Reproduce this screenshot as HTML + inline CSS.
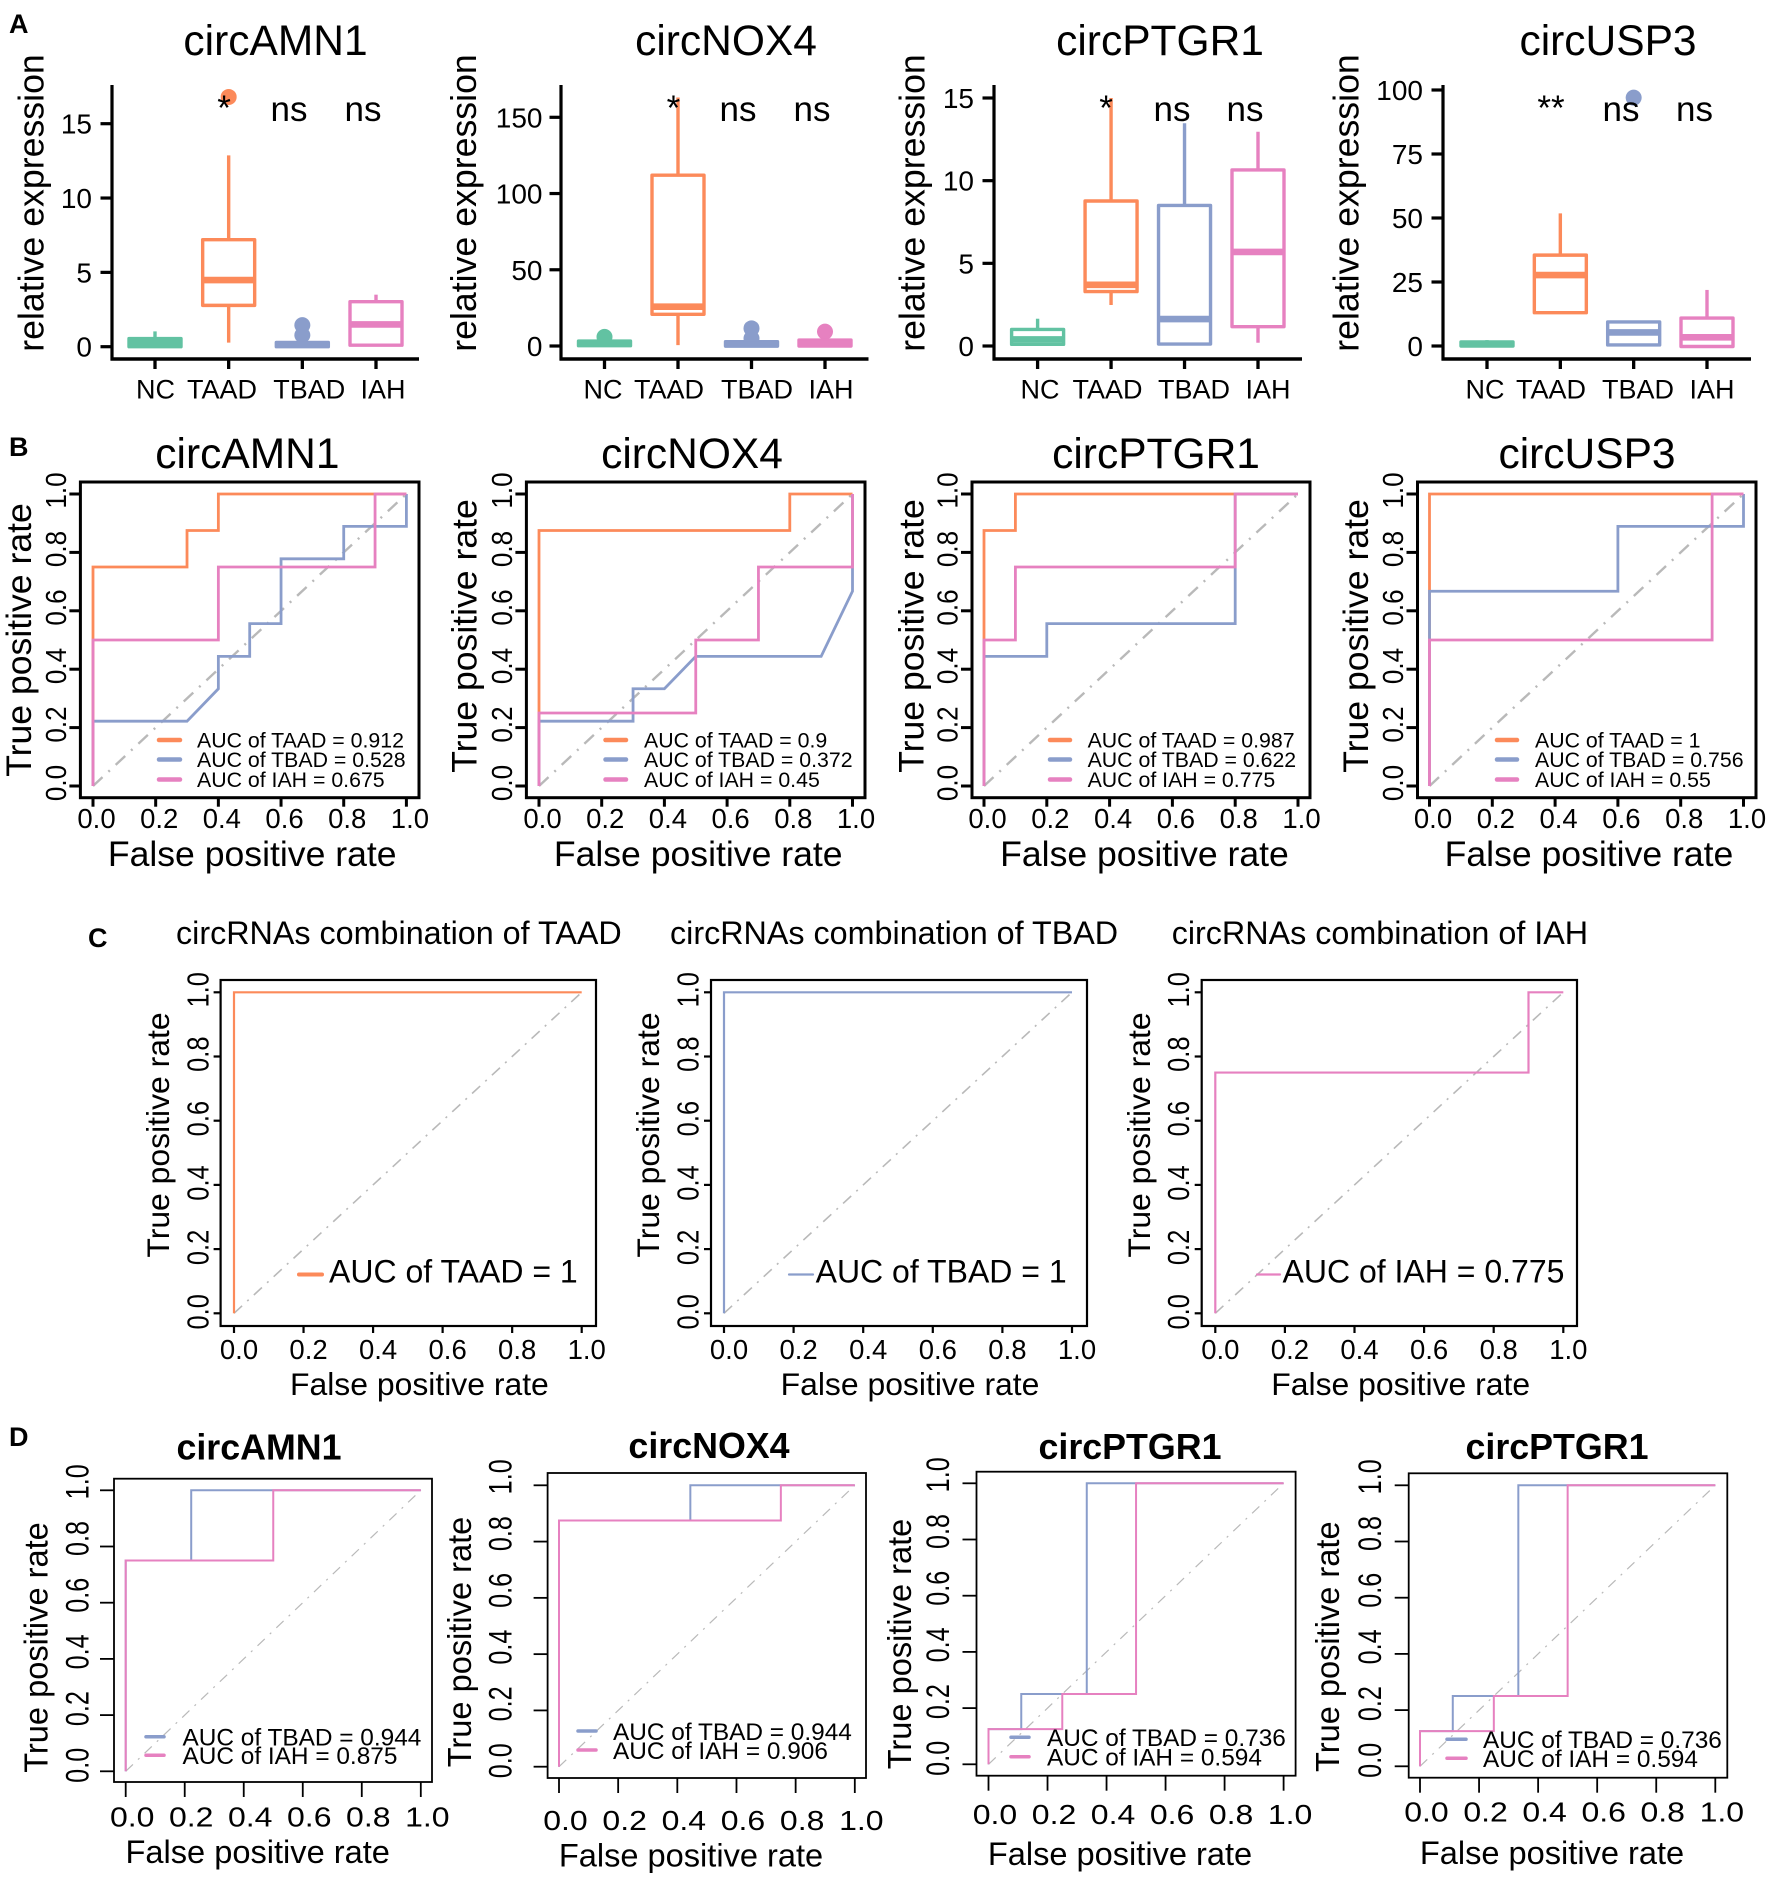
<!DOCTYPE html>
<html lang="en">
<head>
<meta charset="utf-8">
<title>circRNA expression and ROC panels</title>
<style>
html,body{margin:0;padding:0;background:#fff;}
svg{display:block;}
text{font-family:"Liberation Sans",Arial,sans-serif;fill:#000;}
</style>
</head>
<body>
<svg id="figure" xmlns="http://www.w3.org/2000/svg" width="1772" height="1880" viewBox="0 0 1772 1880">
<rect width="1772" height="1880" fill="#fff"/>
<text x="9" y="33" font-size="27" font-weight="bold">A</text>
<text x="9" y="456" font-size="27" font-weight="bold">B</text>
<text x="88" y="947" font-size="27" font-weight="bold">C</text>
<text x="9" y="1446" font-size="27" font-weight="bold">D</text>
</svg>
<script>
// ---------- Panel A data ----------
const boxCategories = ['NC', 'TAAD', 'TBAD', 'IAH'];

const amn1Low = [0, 0.27, 0, 0.1];
const amn1Q1 = [0, 2.78, 0, 0.1];
const amn1Median = [0.3, 4.48, 0.15, 1.5];
const amn1Q3 = [0.55, 7.2, 0.29, 3.03];
const amn1High = [1.03, 12.87, 0.29, 3.5];
const amn1Outliers = [[], [16.8], [0.78, 1.45], []];
const amn1Ticks = [0, 5, 10, 15];
const amn1Sig = ['*', 'ns', 'ns'];

const nox4Low = [0, 0.6, 0, 0];
const nox4Q1 = [0.2, 20.8, 0, 0];
const nox4Median = [1.5, 25.8, 1, 1.5];
const nox4Q3 = [3.2, 112, 2.8, 3.9];
const nox4High = [3.2, 163, 2.8, 3.9];
const nox4Outliers = [[6], [], [5, 11.6], [9.4]];
const nox4Ticks = [0, 50, 100, 150];
const nox4Sig = ['*', 'ns', 'ns'];

const ptgr1Low = [0, 2.48, 0.04, 0.2];
const ptgr1Q1 = [0.1, 3.29, 0.12, 1.17];
const ptgr1Median = [0.4, 3.7, 1.63, 5.69];
const ptgr1Q3 = [1.0, 8.77, 8.5, 10.65];
const ptgr1High = [1.65, 15, 13.47, 12.96];
const ptgr1Outliers = [[], [], [], []];
const ptgr1Ticks = [0, 5, 10, 15];
const ptgr1Sig = ['*', 'ns', 'ns'];

const usp3Low = [0, 12.5, 0.4, -0.2];
const usp3Q1 = [0, 13, 0.4, -0.2];
const usp3Median = [0.7, 27.7, 5.3, 3.4];
const usp3Q3 = [1.6, 35.5, 9.4, 10.9];
const usp3High = [2.3, 51.8, 9.4, 21.9];
const usp3Outliers = [[], [], [97], []];
const usp3Ticks = [0, 25, 50, 75, 100];
const usp3Sig = ['**', 'ns', 'ns'];

// ---------- ROC tick labels ----------
const rocTicks = [0, 0.2, 0.4, 0.6, 0.8, 1];

// ---------- Panel B data ----------
const bAmn1TaadFpr = [0, 0, 0.3, 0.3, 0.4, 0.4, 1];
const bAmn1TaadTpr = [0, 0.75, 0.75, 0.875, 0.875, 1, 1];
const bAmn1TbadFpr = [0, 0, 0.3, 0.4, 0.4, 0.5, 0.5, 0.6, 0.6, 0.8, 0.8, 1, 1];
const bAmn1TbadTpr = [0, 0.222, 0.222, 0.333, 0.444, 0.444, 0.556, 0.556, 0.778, 0.778, 0.889, 0.889, 1];
const bAmn1IahFpr = [0, 0, 0.4, 0.4, 0.9, 0.9, 1];
const bAmn1IahTpr = [0, 0.5, 0.5, 0.75, 0.75, 1, 1];
const bAmn1Auc = ['AUC of TAAD = 0.912', 'AUC of TBAD = 0.528', 'AUC of IAH = 0.675'];

const bNox4TaadFpr = [0, 0, 0.8, 0.8, 1];
const bNox4TaadTpr = [0, 0.875, 0.875, 1, 1];
const bNox4TbadFpr = [0, 0, 0.3, 0.3, 0.4, 0.5, 0.9, 1, 1];
const bNox4TbadTpr = [0, 0.222, 0.222, 0.333, 0.333, 0.444, 0.444, 0.667, 1];
const bNox4IahFpr = [0, 0, 0.5, 0.5, 0.7, 0.7, 1, 1];
const bNox4IahTpr = [0, 0.25, 0.25, 0.5, 0.5, 0.75, 0.75, 1];
const bNox4Auc = ['AUC of TAAD = 0.9', 'AUC of TBAD = 0.372', 'AUC of IAH = 0.45'];

const bPtgr1TaadFpr = [0, 0, 0.1, 0.1, 1];
const bPtgr1TaadTpr = [0, 0.875, 0.875, 1, 1];
const bPtgr1TbadFpr = [0, 0, 0.2, 0.2, 0.8, 0.8, 1];
const bPtgr1TbadTpr = [0, 0.444, 0.444, 0.556, 0.556, 1, 1];
const bPtgr1IahFpr = [0, 0, 0.1, 0.1, 0.8, 0.8, 1];
const bPtgr1IahTpr = [0, 0.5, 0.5, 0.75, 0.75, 1, 1];
const bPtgr1Auc = ['AUC of TAAD = 0.987', 'AUC of TBAD = 0.622', 'AUC of IAH = 0.775'];

const bUsp3TaadFpr = [0, 0, 1];
const bUsp3TaadTpr = [0, 1, 1];
const bUsp3TbadFpr = [0, 0, 0.6, 0.6, 1, 1];
const bUsp3TbadTpr = [0, 0.667, 0.667, 0.889, 0.889, 1];
const bUsp3IahFpr = [0, 0, 0.9, 0.9, 1];
const bUsp3IahTpr = [0, 0.5, 0.5, 1, 1];
const bUsp3Auc = ['AUC of TAAD = 1', 'AUC of TBAD = 0.756', 'AUC of IAH = 0.55'];

// ---------- Panel C data ----------
const cTaadFpr = [0, 0, 1];
const cTaadTpr = [0, 1, 1];
const cTbadFpr = [0, 0, 1];
const cTbadTpr = [0, 1, 1];
const cIahFpr = [0, 0, 0.9, 0.9, 1];
const cIahTpr = [0, 0.75, 0.75, 1, 1];
const cTaadAuc = ['AUC of TAAD = 1'];
const cTbadAuc = ['AUC of TBAD = 1'];
const cIahAuc = ['AUC of IAH = 0.775'];

// ---------- Panel D data ----------
const dAmn1TbadFpr = [0, 0, 0.222, 0.222, 1];
const dAmn1TbadTpr = [0, 0.75, 0.75, 1, 1];
const dAmn1IahFpr = [0, 0, 0.5, 0.5, 1];
const dAmn1IahTpr = [0, 0.75, 0.75, 1, 1];
const dAmn1Auc = ['AUC of TBAD = 0.944', 'AUC of IAH = 0.875'];

const dNox4TbadFpr = [0, 0, 0.444, 0.444, 1];
const dNox4TbadTpr = [0, 0.875, 0.875, 1, 1];
const dNox4IahFpr = [0, 0, 0.75, 0.75, 1];
const dNox4IahTpr = [0, 0.875, 0.875, 1, 1];
const dNox4Auc = ['AUC of TBAD = 0.944', 'AUC of IAH = 0.906'];

const dPtgr1aTbadFpr = [0, 0, 0.111, 0.111, 0.333, 0.333, 1];
const dPtgr1aTbadTpr = [0, 0.125, 0.125, 0.25, 0.25, 1, 1];
const dPtgr1aIahFpr = [0, 0, 0.25, 0.25, 0.5, 0.5, 1];
const dPtgr1aIahTpr = [0, 0.125, 0.125, 0.25, 0.25, 1, 1];
const dPtgr1aAuc = ['AUC of TBAD = 0.736', 'AUC of IAH = 0.594'];

const dPtgr1bTbadFpr = [0, 0, 0.111, 0.111, 0.333, 0.333, 1];
const dPtgr1bTbadTpr = [0, 0.125, 0.125, 0.25, 0.25, 1, 1];
const dPtgr1bIahFpr = [0, 0, 0.25, 0.25, 0.5, 0.5, 1];
const dPtgr1bIahTpr = [0, 0.125, 0.125, 0.25, 0.25, 1, 1];
const dPtgr1bAuc = ['AUC of TBAD = 0.736', 'AUC of IAH = 0.594'];

// ---------- Colours ----------
const COL = {NC: '#62c2a2', TAAD: '#fc8a5a', TBAD: '#8a9dcb', IAH: '#e681c0'};
const boxColours = [COL.NC, COL.TAAD, COL.TBAD, COL.IAH];

// ---------- Helpers ----------
const NS = 'http://www.w3.org/2000/svg';
const root = document.getElementById('figure');
function mk(tag, attrs, parent) {
  const e = document.createElementNS(NS, tag);
  for (const k in attrs) e.setAttribute(k, attrs[k]);
  parent.appendChild(e);
  return e;
}
function txt(parent, str, x, y, size, o) {
  o = o || {};
  const e = mk('text', {
    'font-size': size,
    'text-anchor': o.anchor || 'middle',
    'font-weight': o.bold ? 'bold' : 'normal',
    transform: 'translate(' + x + ' ' + y + ') rotate(' + (o.rot || 0) + ') scale(1 ' + (o.sy || 1) + ')'
  }, parent);
  e.textContent = str;
  return e;
}
function line(parent, x1, y1, x2, y2, colour, w) {
  return mk('line', {x1: x1, y1: y1, x2: x2, y2: y2, stroke: colour, 'stroke-width': w}, parent);
}
function linear(d0, d1, r0, r1) {
  return function (v) { return r0 + (v - d0) * (r1 - r0) / (d1 - d0); };
}

// ---------- Box plot panel ----------
function drawBoxPanel(p) {
  const g = mk('g', {}, root);
  
  
  const y = linear(p.yRef[0], p.yRef[1], p.yPix[0], p.yPix[1]);
  const xc = function (i) { return linear(0, boxCategories.length - 1, p.x0, p.x3)(i); };

  const title = txt(g, p.title, p.titleX, 55, 42.5);
  
  

  const yTitle = txt(g, 'relative expression', p.yLabelX, 203, 35.7, {rot: -90});
  
  

  const yAxis = line(g, p.left, 85, p.left, 360.5, '#000', 3.2);
  
  

  const xAxis = line(g, p.left - 1.5, 359, p.right, 359, '#000', 3.6);
  
  

  p.ticks.forEach(function (t) {
    const tk = line(g, p.left - 11.5, y(t), p.left, y(t), '#000', 3.2);
    
    
    const lb = txt(g, String(t), p.tickRight, y(t) + 10, 28, {anchor: 'end'});
    
    
  });

  boxCategories.forEach(function (c, i) {
    const cx = xc(i);
    const col = boxColours[i];
    const tk = line(g, cx, 359, cx, 369, '#000', 3.3);
    
    
    const lb = txt(g, c, p.catLabelX[i], 398.3, 27);
    
    

    const whisker = line(g, cx, y(p.high[i]), cx, y(p.low[i]), col, 3.4);
    
    

    p.outliers[i].forEach(function (v) {
      const dot = mk('circle', {cx: cx, cy: y(v), r: 8, fill: col}, g);
      
      
    });

    const box = mk('rect', {
      x: cx - 26, width: 52,
      y: y(p.q3[i]), height: Math.max(0.5, y(p.q1[i]) - y(p.q3[i])),
      fill: '#fff', stroke: col, 'stroke-width': 3.4, 'stroke-linejoin': 'round'
    }, g);
    
    

    const med = line(g, cx - 27, y(p.median[i]), cx + 27, y(p.median[i]), col, 6.6);
    
    
  });

  p.sig.forEach(function (s, i) {
    const lb = txt(g, s, p.sigX[i], s === 'ns' ? 121 : 120, 35);
    
    
  });
}

// ---------- ROC panel ----------
function drawRoc(p) {
  const g = mk('g', {}, root);
  
  
  const X = linear(0, 1, p.x0, p.x1);
  const Y = linear(0, 1, p.y0, p.y1);

  const frame = mk('rect', {
    x: p.box[0], y: p.box[1], width: p.box[2] - p.box[0], height: p.box[3] - p.box[1],
    fill: 'none', stroke: '#000', 'stroke-width': p.frameW
  }, g);
  
  

  const diag = line(g, X(0), Y(0), X(1), Y(1), '#b9b9b9', p.diagW);
  diag.setAttribute('stroke-dasharray', p.diagDash);
  
  

  rocTicks.forEach(function (t) {
    const tx = line(g, X(t), p.box[3], X(t), p.box[3] + p.xTickLen, '#000', p.frameW);
    
    
    const ty = line(g, p.box[0] - p.yTickLen, Y(t), p.box[0], Y(t), '#000', p.frameW);
    
    
    const lx = txt(g, t.toFixed(1), X(t) + p.xTickDx, p.xTickBase, p.xTickSize, {sy: p.xTickSy});
    
    
    const dy = p.yTickDy[0] + (p.yTickDy[1] - p.yTickDy[0]) * t;
    const ly = txt(g, t.toFixed(1), p.yTickBase, Y(t) + dy, p.yTickSize, {rot: -90, sy: p.yTickSy});
    
    
  });

  p.curves.forEach(function (c) {
    const pts = c.fpr.map(function (f, i) { return X(f).toFixed(2) + ',' + Y(c.tpr[i]).toFixed(2); }).join(' ');
    const path = mk('polyline', {points: pts, fill: 'none', stroke: c.colour, 'stroke-width': p.curveW}, g);
    
    
  });

  const title = txt(g, p.title, p.titleX, p.titleY, p.titleSize, {bold: p.titleBold, anchor: p.titleAnchor});
  
  

  const xt = txt(g, 'False positive rate', p.xLabelX, p.xLabelY, p.labelSize);
  
  

  const yt = txt(g, 'True positive rate', p.yLabelX, p.yLabelY, p.labelSize, {rot: -90, sy: p.yLabelSy});
  
  

  p.auc.forEach(function (label, i) {
    const ly = p.legendY[i];
    const hd = line(g, p.legendH[0], ly, p.legendH[1], ly, p.curves[i].colour, p.legendW);
    hd.setAttribute('stroke-linecap', 'round');
    
    
    const lb = txt(g, label, p.legendText, ly + p.legendSize * 0.36 + (p.legendDy || 0), p.legendSize, {anchor: 'start'});
    
    
  });
}

// ---------- Draw panel A ----------
drawBoxPanel({key: 'circamn1', title: 'circAMN1', titleX: 275.5, yLabelX: 43.5, left: 112, right: 419, tickRight: 92,
  x0: 155, x3: 376, yRef: [0, 15], yPix: [346.7, 123.7], ticks: amn1Ticks, catLabelX: [155.5, 222, 309.3, 383],
  low: amn1Low, q1: amn1Q1, median: amn1Median, q3: amn1Q3, high: amn1High, outliers: amn1Outliers,
  sig: amn1Sig, sigX: [224, 289, 363]});
drawBoxPanel({key: 'circnox4', title: 'circNOX4', titleX: 726, yLabelX: 476, left: 561, right: 868.5, tickRight: 542.5,
  x0: 604.5, x3: 825, yRef: [0, 150], yPix: [346, 117.3], ticks: nox4Ticks, catLabelX: [603, 669, 757, 831],
  low: nox4Low, q1: nox4Q1, median: nox4Median, q3: nox4Q3, high: nox4High, outliers: nox4Outliers,
  sig: nox4Sig, sigX: [673.4, 738, 812]});
drawBoxPanel({key: 'circptgr1', title: 'circPTGR1', titleX: 1160, yLabelX: 924.5, left: 994, right: 1302, tickRight: 974,
  x0: 1037.6, x3: 1258, yRef: [0, 15], yPix: [346, 98], ticks: ptgr1Ticks, catLabelX: [1040, 1107.5, 1194, 1268],
  low: ptgr1Low, q1: ptgr1Q1, median: ptgr1Median, q3: ptgr1Q3, high: ptgr1High, outliers: ptgr1Outliers,
  sig: ptgr1Sig, sigX: [1106, 1172, 1245]});
drawBoxPanel({key: 'circusp3', title: 'circUSP3', titleX: 1608, yLabelX: 1358.5, left: 1443, right: 1751, tickRight: 1423,
  x0: 1487, x3: 1707, yRef: [0, 100], yPix: [346, 90], ticks: usp3Ticks, catLabelX: [1485, 1551, 1638, 1712],
  low: usp3Low, q1: usp3Q1, median: usp3Median, q3: usp3Q3, high: usp3High, outliers: usp3Outliers,
  sig: usp3Sig, sigX: [1551, 1621, 1694.5]});

// ---------- Draw panel B ----------
function rocB(o) {
  return Object.assign({
    y0: 786, y1: 494, frameW: 3, xTickLen: 9, yTickLen: 11, curveW: 2.8, diagW: 2.4, diagDash: '13 8 2 8',
    xTickDx: 3.5, xTickBase: 828, xTickSize: 27.5, xTickSy: 1, yTickSize: 26, yTickSy: 1.1, yTickDy: [-3, -3.5],
    titleY: 468, titleSize: 42.5, titleBold: false, xLabelY: 866, labelSize: 35.6, yLabelSy: 1,
    legendY: [740, 759.5, 779.5], legendW: 4.5, legendSize: 21.3
  }, o);
}
function triple(t, b, i) {
  return [
    {group: 'taad', colour: COL.TAAD, fpr: t[0], tpr: t[1]},
    {group: 'tbad', colour: COL.TBAD, fpr: b[0], tpr: b[1]},
    {group: 'iah', colour: COL.IAH, fpr: i[0], tpr: i[1]}
  ];
}
drawRoc(rocB({key: 'b-circamn1', box: [80.4, 482, 419, 797.7], x0: 93, x1: 406.4, title: 'circAMN1', titleX: 247.4,
  xLabelX: 252.2, yLabelX: 31, yLabelY: 640, yTickBase: 66,
  curves: triple([bAmn1TaadFpr, bAmn1TaadTpr], [bAmn1TbadFpr, bAmn1TbadTpr], [bAmn1IahFpr, bAmn1IahTpr]),
  auc: bAmn1Auc, legendH: [159, 180], legendText: 197}));
drawRoc(rocB({key: 'b-circnox4', box: [526.4, 482, 865, 797.7], x0: 539, x1: 852.5, title: 'circNOX4', titleX: 692,
  xLabelX: 698.2, yLabelX: 476.5, yLabelY: 636, yTickBase: 512,
  curves: triple([bNox4TaadFpr, bNox4TaadTpr], [bNox4TbadFpr, bNox4TbadTpr], [bNox4IahFpr, bNox4IahTpr]),
  auc: bNox4Auc, legendH: [605.5, 626], legendText: 644}));
drawRoc(rocB({key: 'b-circptgr1', box: [972, 482, 1310, 797.7], x0: 984, x1: 1298, title: 'circPTGR1', titleX: 1156,
  xLabelX: 1144.5, yLabelX: 923.5, yLabelY: 636, yTickBase: 957.3,
  curves: triple([bPtgr1TaadFpr, bPtgr1TaadTpr], [bPtgr1TbadFpr, bPtgr1TbadTpr], [bPtgr1IahFpr, bPtgr1IahTpr]),
  auc: bPtgr1Auc, legendH: [1050, 1070], legendText: 1087.6}));
drawRoc(rocB({key: 'b-circusp3', box: [1417.5, 482, 1756, 797.7], x0: 1429.5, x1: 1743.5, title: 'circUSP3', titleX: 1587,
  xLabelX: 1589, yLabelX: 1368, yLabelY: 636, yTickBase: 1403,
  curves: triple([bUsp3TaadFpr, bUsp3TaadTpr], [bUsp3TbadFpr, bUsp3TbadTpr], [bUsp3IahFpr, bUsp3IahTpr]),
  auc: bUsp3Auc, legendH: [1497, 1517], legendText: 1535}));

// ---------- Draw panel C ----------
function rocC(o) {
  return Object.assign({
    y0: 1313.3, y1: 992.3, frameW: 2.2, xTickLen: 7, yTickLen: 7, curveW: 2.2, diagW: 1.6, diagDash: '11 7 2 7',
    xTickDx: 5, xTickBase: 1359, xTickSize: 27.5, xTickSy: 1, yTickSize: 25.5, yTickSy: 1.18, yTickDy: [-1.5, -2.5],
    titleY: 944, titleSize: 32.3, titleBold: false, titleAnchor: 'start', xLabelY: 1395, labelSize: 31.9, yLabelSy: 1,
    yLabelY: 1135, legendY: [1274.5], legendSize: 32, legendDy: -3.5
  }, o);
}
drawRoc(rocC({key: 'c-taad', box: [220.6, 980, 596, 1326], x0: 234, x1: 581.7, title: 'circRNAs combination of TAAD', titleX: 176,
  xLabelX: 419.4, yLabelX: 169, yTickBase: 208.5,
  curves: [{group: 'taad', colour: COL.TAAD, fpr: cTaadFpr, tpr: cTaadTpr}],
  auc: cTaadAuc, legendH: [299, 322], legendW: 4, legendText: 329}));
drawRoc(rocC({key: 'c-tbad', box: [711, 980, 1087, 1326], x0: 724, x1: 1072, title: 'circRNAs combination of TBAD', titleX: 670,
  xLabelX: 910, yLabelX: 659, yTickBase: 698.7,
  curves: [{group: 'tbad', colour: COL.TBAD, fpr: cTbadFpr, tpr: cTbadTpr}],
  auc: cTbadAuc, legendH: [789, 813], legendW: 2.2, legendText: 815.6}));
drawRoc(rocC({key: 'c-iah', box: [1201.7, 980, 1577, 1326], x0: 1215.3, x1: 1563.3, title: 'circRNAs combination of IAH', titleX: 1171.7,
  xLabelX: 1400.7, yLabelX: 1150, yTickBase: 1189,
  curves: [{group: 'iah', colour: COL.IAH, fpr: cIahFpr, tpr: cIahTpr}],
  auc: cIahAuc, legendH: [1257, 1280], legendW: 2.2, legendText: 1282.5}));

// ---------- Draw panel D ----------
function rocD(o) {
  return Object.assign({
    frameW: 1.8, xTickLen: 15, yTickLen: 14, curveW: 2, diagW: 1.2, diagDash: '10 7 2 7',
    xTickDx: 6.5, xTickSize: 32, xTickSy: 0.875, yTickSize: 25.2, yTickSy: 1.3, yTickDy: [-6, -8.5],
    titleSize: 35.8, titleBold: true, labelSize: 32.6, yLabelSy: 1.03,
    legendW: 3.5, legendSize: 24.4
  }, o);
}
function pair(b, i) {
  return [
    {group: 'tbad', colour: COL.TBAD, fpr: b[0], tpr: b[1]},
    {group: 'iah', colour: COL.IAH, fpr: i[0], tpr: i[1]}
  ];
}
drawRoc(rocD({key: 'd-circamn1', box: [114, 1478.7, 432, 1782], x0: 125.7, x1: 420.8, y0: 1771.3, y1: 1490.3,
  title: 'circAMN1', titleX: 259, titleY: 1459.3, xTickBase: 1826.7, xLabelX: 257.7, xLabelY: 1863,
  yLabelX: 47.5, yLabelY: 1647.5, yTickBase: 88.3,
  curves: pair([dAmn1TbadFpr, dAmn1TbadTpr], [dAmn1IahFpr, dAmn1IahTpr]),
  auc: dAmn1Auc, legendY: [1736.7, 1755.3], legendH: [146, 164], legendText: 182.5}));
drawRoc(rocD({key: 'd-circnox4', box: [547.6, 1473, 866, 1778], x0: 559, x1: 854.8, y0: 1766.7, y1: 1485.3,
  title: 'circNOX4', titleX: 709, titleY: 1458, xTickBase: 1830, xLabelX: 691, xLabelY: 1866.7,
  yLabelX: 471, yLabelY: 1642, yTickBase: 511.5,
  curves: pair([dNox4TbadFpr, dNox4TbadTpr], [dNox4IahFpr, dNox4IahTpr]),
  auc: dNox4Auc, legendY: [1731, 1750], legendH: [578, 596], legendText: 613}));
drawRoc(rocD({key: 'd-circptgr1-a', box: [976.5, 1471.7, 1295.6, 1775.7], x0: 988.5, x1: 1283.6, y0: 1764.3, y1: 1483.3,
  title: 'circPTGR1', titleX: 1130, titleY: 1459, xTickBase: 1824, xLabelX: 1120, xLabelY: 1865,
  yLabelX: 911, yLabelY: 1644, yTickBase: 949,
  curves: pair([dPtgr1aTbadFpr, dPtgr1aTbadTpr], [dPtgr1aIahFpr, dPtgr1aIahTpr]),
  auc: dPtgr1aAuc, legendY: [1737.3, 1756.7], legendH: [1011, 1029], legendText: 1047}));
drawRoc(rocD({key: 'd-circptgr1-b', box: [1408.7, 1473.3, 1727.3, 1777.7], x0: 1420, x1: 1715.3, y0: 1766.3, y1: 1485.3,
  title: 'circPTGR1', titleX: 1557, titleY: 1459, xTickBase: 1821.7, xLabelX: 1552, xLabelY: 1864,
  yLabelX: 1339, yLabelY: 1646.7, yTickBase: 1381,
  curves: pair([dPtgr1bTbadFpr, dPtgr1bTbadTpr], [dPtgr1bIahFpr, dPtgr1bIahTpr]),
  auc: dPtgr1bAuc, legendY: [1739.3, 1758.3], legendH: [1447, 1466], legendText: 1483}));
</script>
</body>
</html>
